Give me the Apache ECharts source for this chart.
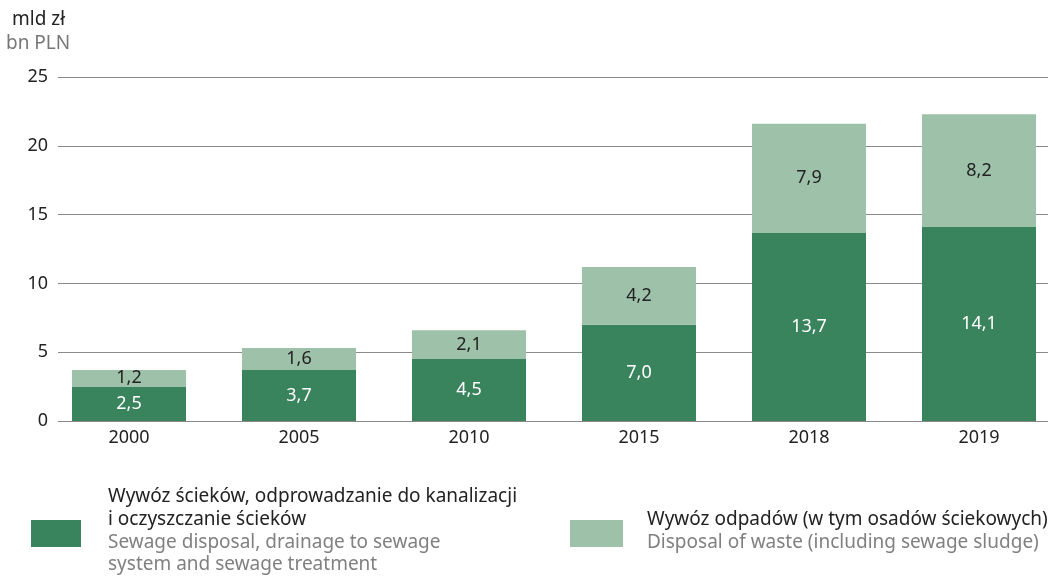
<!DOCTYPE html>
<html>
<head>
<meta charset="utf-8">
<script src="https://cdn.jsdelivr.net/npm/echarts@6/dist/echarts.min.js"></script>
<style>
  html, body { margin: 0; padding: 0; background: #fff; }
  #chart { width: 1054px; height: 576px; }
</style>
</head>
<body>
<div id="chart"></div>
<script>
var years = ['2000', '2005', '2010', '2015', '2018', '2019'];
var sewage = [2.5, 3.7, 4.5, 7.0, 13.7, 14.1];
var waste = [1.2, 1.6, 2.1, 4.2, 7.9, 8.2];
var yTicks = [0, 5, 10, 15, 20, 25];

var darkGreen = '#39835d';
var lightGreen = '#9ec1aa';
var font = 'Noto Sans';
var txt = '19px "Noto Sans"';

function fmt(v) { return v.toFixed(1).replace('.', ','); }

var chart = echarts.init(document.getElementById('chart'));
chart.setOption({
  animation: false,
  textStyle: { fontFamily: font },
  grid: [
    { left: 58, right: 6, top: 77, bottom: 155 },
    // bars: category points at the edges, first centre x=129, last x=979
    { left: 129, right: 75, top: 77, bottom: 155 }
  ],
  xAxis: [
    { gridIndex: 0, type: 'category', data: years, show: false },
    {
      gridIndex: 1, type: 'category', data: years, boundaryGap: false,
      axisLine: { show: false }, axisTick: { show: false },
      axisLabel: { color: '#222', fontSize: 18, margin: 8, fontFamily: font }
    }
  ],
  yAxis: [
    {
      gridIndex: 0, type: 'value', min: yTicks[0], max: yTicks[yTicks.length - 1], interval: 5,
      axisLine: { show: false }, axisTick: { show: false },
      axisLabel: { color: '#222', fontSize: 18, margin: 10, fontFamily: font },
      splitLine: { lineStyle: { color: '#8a8a8a', width: 1 } }
    },
    {
      gridIndex: 1, type: 'value', min: 0, max: 25, interval: 5, show: false,
      splitLine: { show: false }
    }
  ],
  series: [
    {
      name: 'sewage', type: 'bar', stack: 'total', xAxisIndex: 1, yAxisIndex: 1,
      data: sewage, barWidth: 114, z: 3, clip: false,
      itemStyle: { color: darkGreen },
      label: {
        show: true, position: 'inside', color: '#fff', fontSize: 18, fontFamily: font,
        formatter: function (p) { return fmt(p.value); }
      }
    },
    {
      name: 'waste', type: 'bar', stack: 'total', xAxisIndex: 1, yAxisIndex: 1,
      data: waste, barWidth: 114, z: 3, clip: false,
      itemStyle: { color: lightGreen },
      label: {
        show: true, position: 'inside', color: '#222', fontSize: 18, fontFamily: font,
        formatter: function (p) { return fmt(p.value); }
      }
    }
  ],
  graphic: [
    { type: 'text', left: 12, top: 10, style: { text: 'mld zł', fill: '#222', font: txt } },
    { type: 'text', left: 6, top: 34, style: { text: 'bn PLN', fill: '#777', font: txt } },

    { type: 'rect', shape: { x: 31, y: 520, width: 50, height: 27 }, style: { fill: darkGreen } },
    { type: 'text', left: 108, top: 487, style: { text: 'Wywóz ścieków, odprowadzanie do kanalizacji', fill: '#222', font: txt } },
    { type: 'text', left: 108, top: 510, style: { text: 'i oczyszczanie ścieków', fill: '#222', font: txt } },
    { type: 'text', left: 108, top: 533, style: { text: 'Sewage disposal, drainage to sewage', fill: '#808080', font: txt } },
    { type: 'text', left: 108, top: 555, style: { text: 'system and sewage treatment', fill: '#808080', font: txt } },

    { type: 'rect', shape: { x: 570, y: 520, width: 53, height: 27 }, style: { fill: lightGreen } },
    { type: 'text', left: 647, top: 510, style: { text: 'Wywóz odpadów (w tym osadów ściekowych)', fill: '#222', font: txt } },
    { type: 'text', left: 647, top: 533, style: { text: 'Disposal of waste (including sewage sludge)', fill: '#808080', font: txt } }
  ]
});
</script>
</body>
</html>
